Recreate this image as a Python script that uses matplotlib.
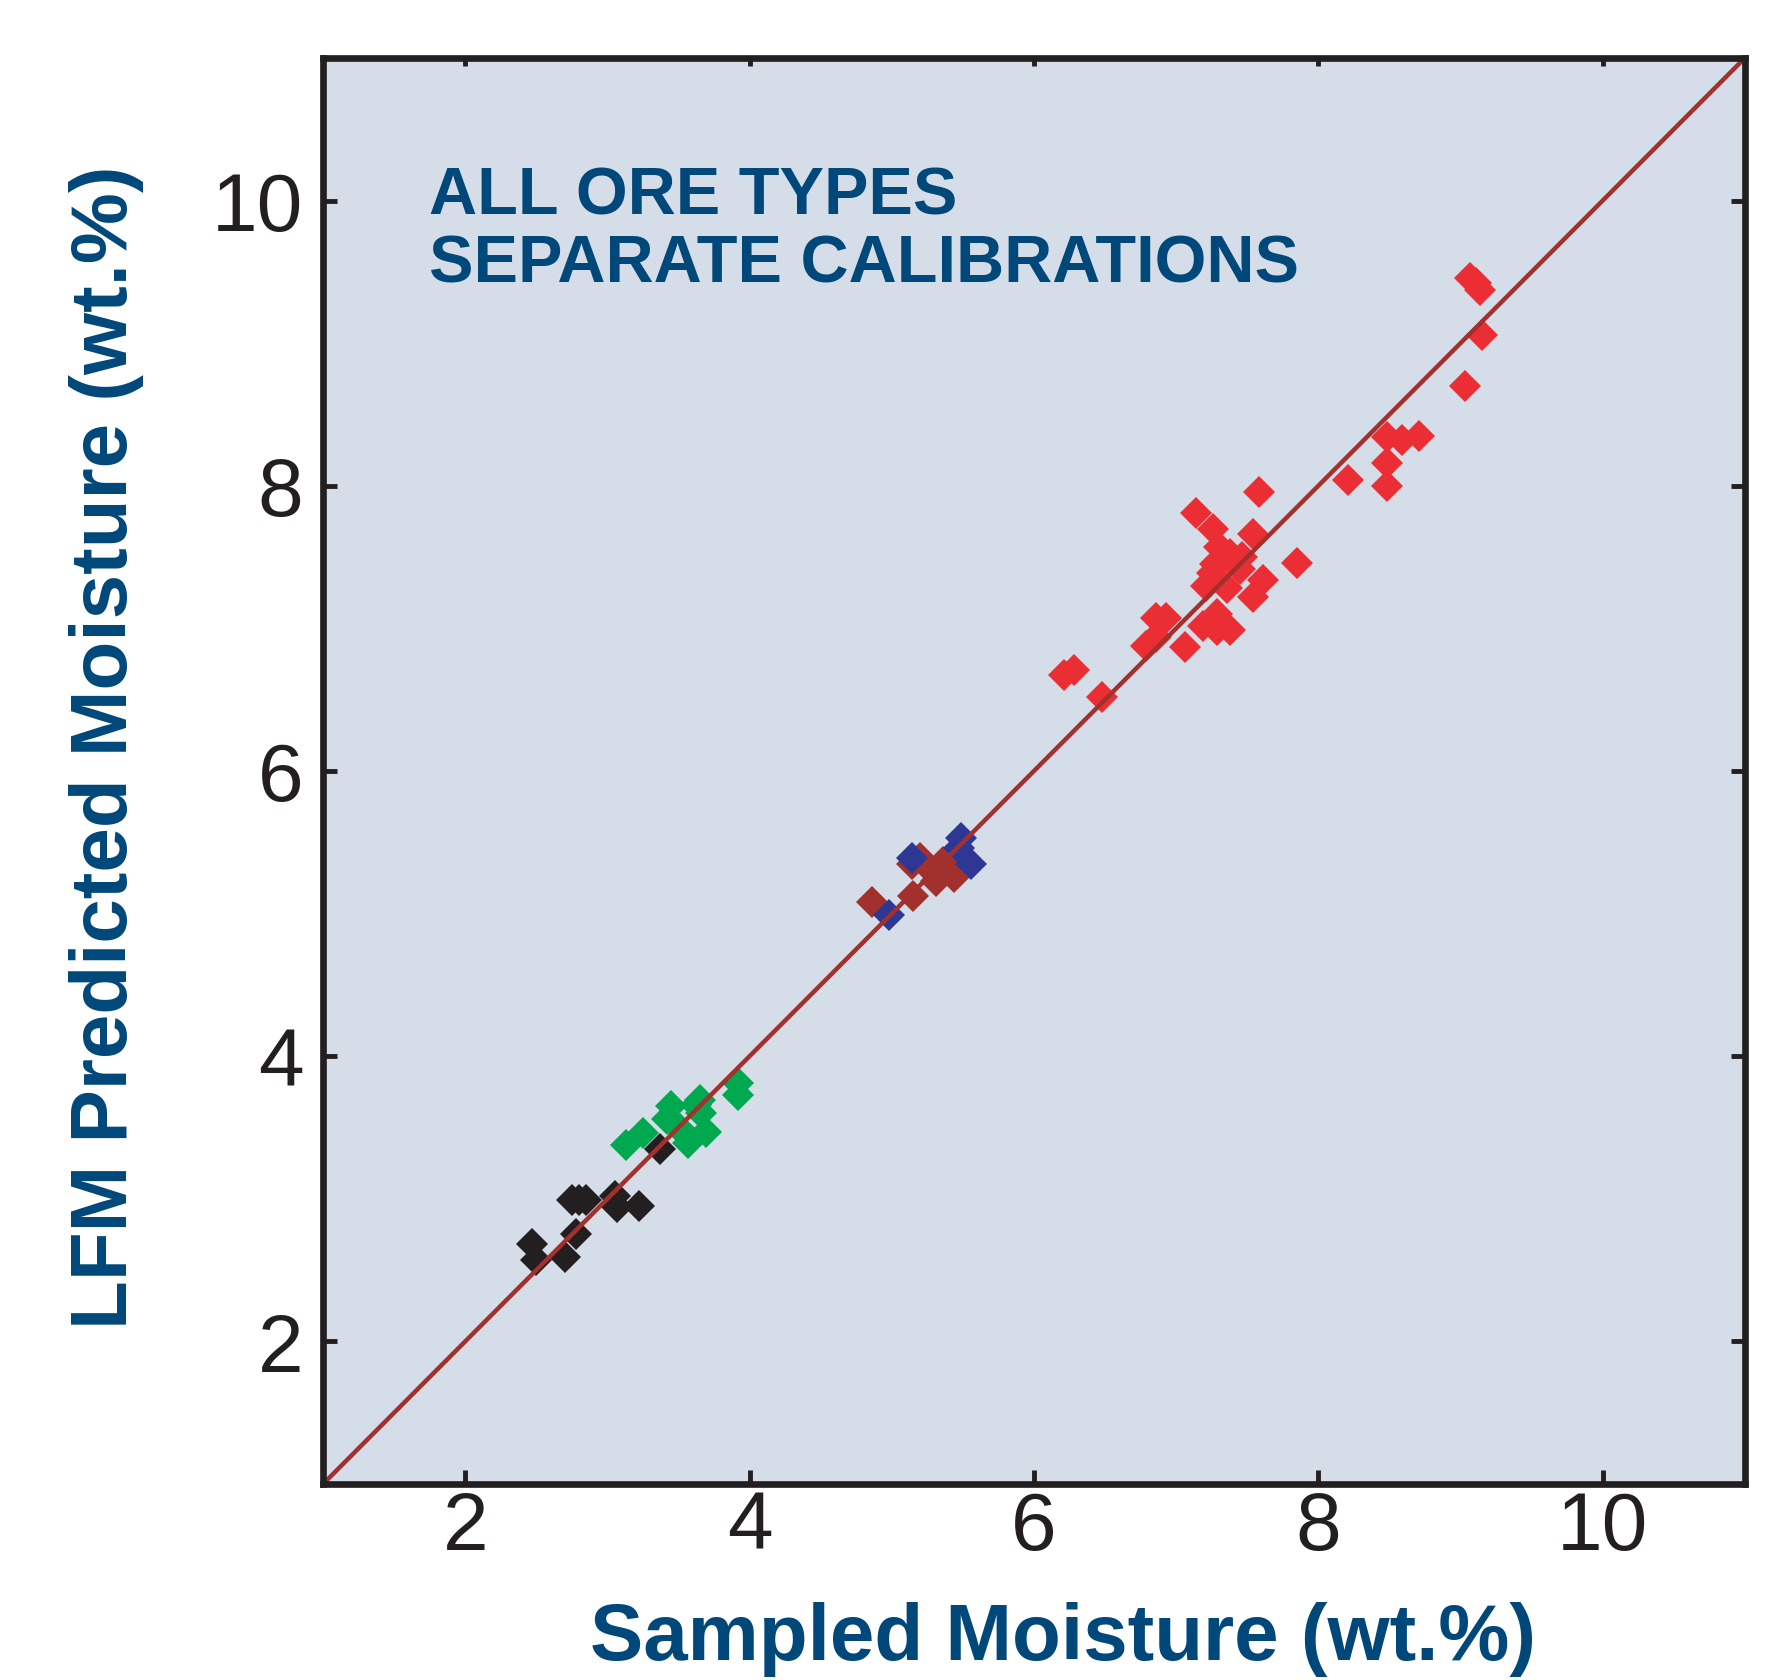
import matplotlib
matplotlib.use("Agg")
import matplotlib.pyplot as plt

# Sampled vs predicted moisture (wt.%)
black_x = [2.47, 2.50, 2.70, 2.78, 2.75, 2.80, 2.85, 3.05, 3.07, 3.22, 3.37]
black_y = [2.68, 2.57, 2.59, 2.75, 2.99, 2.99, 2.99, 3.02, 2.94, 2.95, 3.35]

green_x = [3.13, 3.25, 3.45, 3.42, 3.51, 3.57, 3.65, 3.69, 3.66, 3.62, 3.92, 3.92]
green_y = [3.38, 3.46, 3.65, 3.56, 3.49, 3.39, 3.69, 3.47, 3.60, 3.66, 3.81, 3.73]

brown_x = [4.86, 5.15, 5.20, 5.14, 5.29, 5.36, 5.44, 5.31]
brown_y = [5.08, 5.12, 5.39, 5.35, 5.29, 5.36, 5.26, 5.23]

blue_x = [4.98, 5.14, 5.47, 5.49, 5.56]
blue_y = [4.99, 5.39, 5.46, 5.53, 5.35]

red_x = [7.58, 7.14, 7.26, 7.54, 7.30, 7.38, 7.46, 7.27, 7.45, 7.25, 7.85,
         7.21, 7.36, 7.61, 7.54, 7.29, 7.19, 7.29, 7.38, 6.93, 6.86, 6.79,
         6.86, 7.06, 6.21, 6.28, 6.48, 9.07, 9.11, 9.14, 9.15, 9.03, 8.48,
         8.59, 8.71, 8.48, 8.48, 8.21]
red_y = [7.96, 7.81, 7.70, 7.66, 7.57, 7.52, 7.50, 7.45, 7.42, 7.39, 7.46,
         7.30, 7.28, 7.34, 7.22, 7.10, 7.02, 6.99, 6.99, 7.07, 7.07, 6.88,
         6.94, 6.87, 6.67, 6.71, 6.52, 9.46, 9.42, 9.37, 9.06, 8.70, 8.34,
         8.32, 8.35, 8.16, 8.00, 8.04]

ticks = [2, 4, 6, 8, 10]
title_lines = ["ALL ORE TYPES", "SEPARATE CALIBRATIONS"]

blue_text = "#00477A"
ink = "#231F20"

plt.rcParams['font.family'] = ['Liberation Sans', 'DejaVu Sans']

fig = plt.figure(figsize=(17.75, 16.81), dpi=100)
ax = fig.add_axes([0.182, 0.1166, 0.801, 0.8483])
ax.set_facecolor("#D5DDE9")

ms = 16
ax.plot(black_x, black_y, 'D', ms=ms, mew=0, color="#231F20", zorder=2)
ax.plot(green_x, green_y, 'D', ms=ms, mew=0, color="#00A84F", zorder=2)
ax.plot(brown_x, brown_y, 'D', ms=ms, mew=0, color="#A2302C", zorder=2)
ax.plot(blue_x, blue_y, 'D', ms=ms, mew=0, color="#2E3894", zorder=3)
ax.plot(red_x, red_y, 'D', ms=ms, mew=0, color="#EA2E33", zorder=2)

# 1:1 line
ax.plot([1, 11], [1, 11], color="#A2302C", lw=3.2, zorder=4)

ax.set_xlim(1, 11)
ax.set_ylim(1, 11)
ax.set_xticks(ticks)
ax.set_yticks(ticks)
ax.set_xticklabels([str(t) for t in ticks])
ax.set_yticklabels([str(t) for t in ticks])

for s in ax.spines.values():
    s.set_linewidth(4.8)
    s.set_color(ink)
    s.set_zorder(5)

ax.tick_params(direction='in', length=10, width=3.5, color=ink,
               labelsize=59, labelcolor=ink, right=True, top=True)
ax.tick_params(axis='x', pad=4)
ax.tick_params(axis='y', pad=14)
for t in ax.xaxis.get_major_ticks():
    t.tick2line.set_markersize(6)

y_base = [9.91, 9.43]
for line, yb in zip(title_lines, y_base):
    ax.text(1.745, yb, line, fontsize=48, fontweight='bold', color=blue_text,
            ha='left', va='baseline', zorder=6)

fig.text(0.599, 0.0125, "Sampled Moisture (wt.%)", fontsize=57.5,
         fontweight='bold', color=blue_text, ha='center', va='baseline')
fig.text(127 / 1775, 0.5557, "LFM Predicted Moisture (wt.%)", fontsize=57.5,
         fontweight='bold', color=blue_text, rotation=90,
         rotation_mode='anchor', ha='center', va='baseline')

fig.savefig("out.png", dpi=100)
